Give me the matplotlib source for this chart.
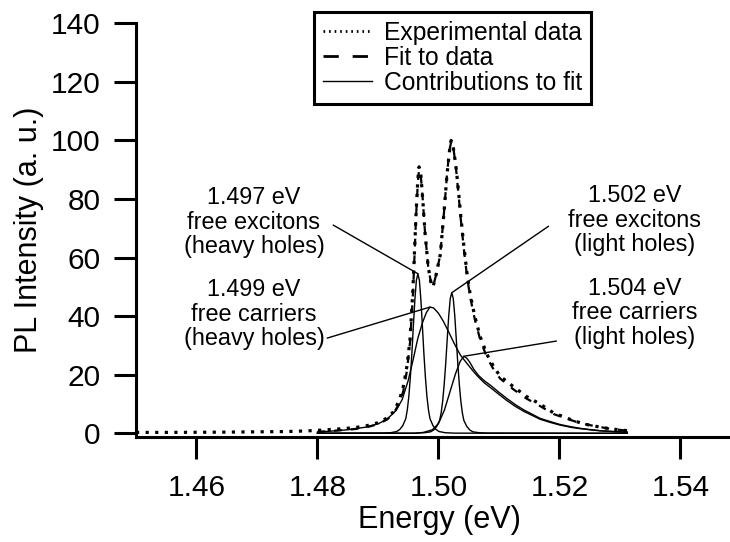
import numpy as np
import matplotlib
matplotlib.use('Agg')
import matplotlib.pyplot as plt

plt.rcParams['font.family'] = ['Liberation Sans', 'DejaVu Sans']

# --- measured PL spectrum (a. u.) ---
exp_energy = [1.4500, 1.4550, 1.4600, 1.4650, 1.4700, 1.4750, 1.4780, 1.4800, 1.4830, 1.4860,
              1.4880, 1.4900, 1.4915, 1.4925, 1.4935, 1.4942, 1.4948, 1.4953, 1.4958, 1.4963,
              1.4966, 1.4968, 1.4971, 1.4974, 1.4978, 1.4983, 1.4988, 1.4991, 1.4996, 1.5003,
              1.5009, 1.5014, 1.5018, 1.5021, 1.5025, 1.5029, 1.5033, 1.5037, 1.5042, 1.5047,
              1.5052, 1.5060, 1.5069, 1.5080, 1.5092, 1.5102, 1.5124, 1.5146, 1.5168, 1.5190,
              1.5212, 1.5228, 1.5245, 1.5265, 1.5285, 1.5312]
exp_intensity = [0.3, 0.3, 0.35, 0.4, 0.5, 0.6, 0.8, 1.0, 1.4, 1.9,
                 2.5, 3.6, 5.2, 7.2, 11.0, 16.0, 23.0, 32.0, 50.0, 75.0,
                 87.0, 91.0, 88.0, 80.0, 68.0, 57.0, 51.0, 50.0, 54.0, 61.0,
                 75.0, 88.0, 96.0, 100.0, 97.0, 91.0, 83.0, 74.0, 64.0, 55.0,
                 48.0, 40.0, 33.0, 27.0, 22.5, 19.5, 15.9, 12.5, 10.0, 7.0,
                 5.2, 4.0, 3.0, 2.2, 1.5, 0.9]

# --- total fit ---
fit_energy = [1.4800, 1.4830, 1.4860, 1.4880, 1.4900, 1.4915, 1.4925, 1.4935, 1.4942, 1.4948,
              1.4953, 1.4958, 1.4963, 1.4966, 1.4968, 1.4971, 1.4974, 1.4978, 1.4983, 1.4988,
              1.4991, 1.4996, 1.5003, 1.5009, 1.5014, 1.5018, 1.5021, 1.5025, 1.5029, 1.5033,
              1.5037, 1.5042, 1.5047, 1.5052, 1.5060, 1.5069, 1.5080, 1.5092, 1.5102, 1.5124,
              1.5146, 1.5168, 1.5190, 1.5212, 1.5228, 1.5245, 1.5265, 1.5285, 1.5312]
fit_intensity = [0.5, 0.9, 1.4, 2.0, 3.1, 4.7, 6.6, 10.0, 14.5, 21.5,
                 31.0, 48.0, 74.0, 86.0, 90.0, 87.5, 80.0, 68.0, 57.0, 51.0,
                 50.0, 54.0, 61.0, 75.0, 88.0, 96.5, 99.5, 97.0, 90.5, 82.0,
                 73.0, 63.0, 54.0, 47.0, 39.0, 32.0, 26.0, 21.5, 18.7, 15.0,
                 11.8, 9.3, 6.6, 5.0, 3.9, 3.0, 2.2, 1.5, 0.9]

# --- fit contributions ---
hhx_energy = [1.4800, 1.4906, 1.4921, 1.4931, 1.4936, 1.4941, 1.4946, 1.49485, 1.4951, 1.49535,
              1.4956, 1.49585, 1.4961, 1.49635, 1.4966, 1.49685, 1.4971, 1.49735, 1.4976, 1.49785,
              1.4981, 1.49835, 1.4986, 1.4991, 1.4996, 1.5001, 1.5011, 1.5026, 1.5312]
hhx_intensity = [0.0, 0.05, 0.2, 0.6, 1.3, 2.6, 5.0, 8.0, 12.5, 19.0,
                 27.0, 36.5, 45.5, 52.2, 54.5, 52.2, 45.5, 36.5, 27.0, 19.0,
                 12.5, 8.0, 5.0, 2.6, 1.3, 0.6, 0.2, 0.05, 0.0]

hhfc_energy = [1.4800, 1.4820, 1.4850, 1.4880, 1.4900, 1.4915, 1.4930, 1.4940, 1.4950, 1.4958,
               1.4966, 1.4974, 1.4980, 1.4986, 1.4992, 1.5000, 1.5008, 1.5016, 1.5026, 1.5036,
               1.5042, 1.5047, 1.5052, 1.5058, 1.5066, 1.5076, 1.5086, 1.5100, 1.5113, 1.5127,
               1.5141, 1.5155, 1.5168, 1.5185, 1.5201, 1.5220, 1.5234, 1.5250, 1.5267, 1.5290,
               1.5312]
hhfc_intensity = [0.4, 0.7, 1.2, 2.1, 3.2, 4.8, 7.8, 11.5, 18.0, 25.0,
                  32.5, 38.0, 41.2, 43.1, 42.8, 41.0, 38.3, 35.0, 30.7, 26.8,
                  25.2, 23.9, 22.6, 21.1, 19.2, 17.2, 15.6, 13.3, 11.2, 9.2,
                  7.5, 6.1, 4.8, 3.7, 2.8, 2.0, 1.6, 1.2, 0.85, 0.55,
                  0.35]

lhx_energy = [1.4800, 1.4962, 1.4977, 1.4987, 1.4992, 1.4997, 1.5002, 1.50045, 1.5007, 1.50095,
              1.5012, 1.50145, 1.5017, 1.50195, 1.5022, 1.50245, 1.5027, 1.50295, 1.5032, 1.50345,
              1.5037, 1.50395, 1.5042, 1.5047, 1.5052, 1.5057, 1.5067, 1.5082, 1.5312]
lhx_intensity = [0.0, 0.05, 0.2, 0.5, 1.1, 2.3, 4.4, 7.0, 11.0, 16.7,
                 23.8, 32.1, 40.1, 46.0, 48.0, 46.0, 40.1, 32.1, 23.8, 16.7,
                 11.0, 7.0, 4.4, 2.3, 1.1, 0.5, 0.2, 0.05, 0.0]

lhfc_energy = [1.4800, 1.4960, 1.4975, 1.4990, 1.5000, 1.5010, 1.5020, 1.5028, 1.5036, 1.5042,
               1.5047, 1.5052, 1.5058, 1.5066, 1.5076, 1.5086, 1.5100, 1.5113, 1.5127, 1.5141,
               1.5155, 1.5168, 1.5185, 1.5201, 1.5220, 1.5234, 1.5250, 1.5267, 1.5290, 1.5312]
lhfc_intensity = [0.0, 0.0, 0.3, 1.2, 3.3, 8.0, 14.8, 20.2, 24.6, 26.3,
                  25.6, 24.2, 22.0, 19.8, 17.9, 16.4, 14.0, 11.9, 9.8, 8.0,
                  6.5, 5.1, 4.0, 3.0, 2.2, 1.7, 1.3, 0.9, 0.6, 0.4]

components = [
    (hhx_energy, hhx_intensity, 'free excitons\n(heavy holes)'),
    (hhfc_energy, hhfc_intensity, 'free carriers\n(heavy holes)'),
    (lhx_energy, lhx_intensity, 'free excitons\n(light holes)'),
    (lhfc_energy, lhfc_intensity, 'free carriers\n(light holes)'),
]

# label block centres and leader-line start points (data coords)
label_pos = [(1.4695, 72.1), (1.4695, 40.7), (1.5324, 72.8), (1.5324, 41.1)]
leader_start = [(1.4826, 71.1), (1.4816, 32.5), (1.5182, 70.7), (1.5195, 31.5)]

fig = plt.figure(figsize=(7.3, 5.42), dpi=100)
ax = fig.add_axes([0.1863, 0.1943, 0.8137, 0.7627])

for e, i, _ in components:
    ax.plot(e, i, '-', color='black', linewidth=1.0)
ax.plot(fit_energy, fit_intensity, color='black', linewidth=1.6,
        linestyle=(0, (3.5, 4)))
ax.plot(exp_energy, exp_intensity, color='black', linewidth=2.3,
        linestyle=(0, (1, 2)))

# peak labels with leader lines
for (e, i, desc), (tx, ty), (sx, sy) in zip(components, label_pos, leader_start):
    k = int(np.argmax(i))
    pe, pv = e[k], i[k]
    ax.annotate('', xy=(pe, pv), xytext=(sx, sy),
                arrowprops=dict(arrowstyle='-', color='black', lw=1.0,
                                shrinkA=0, shrinkB=0))
    ax.text(tx, ty, f'{pe:.3f} eV\n{desc}', ha='center', va='center',
            fontsize=16.8, linespacing=1.1)

ax.set_xlim(1.45, 1.5482)
ax.set_ylim(-1.16, 140)
ax.set_xticks([1.46, 1.48, 1.50, 1.52, 1.54])
ax.set_yticks([0, 20, 40, 60, 80, 100, 120, 140])
ax.set_xticklabels(['1.46', '1.48', '1.50', '1.52', '1.54'])

for side in ['top', 'right']:
    ax.spines[side].set_visible(False)
for side in ['left', 'bottom']:
    ax.spines[side].set_linewidth(2.2)
ax.tick_params(direction='out', length=16, width=2.2, labelsize=21.5)
ax.tick_params(axis='x', pad=11)
ax.tick_params(axis='y', pad=9.5)

ax.set_xlabel('Energy (eV)', fontsize=22)
ax.set_ylabel('PL Intensity (a. u.)', fontsize=22)
ax.xaxis.set_label_coords(0.51, -0.165)
ax.yaxis.set_label_coords(-0.155, 0.5)

leg_lines = [
    plt.Line2D([], [], color='black', linewidth=2.0, linestyle=(0, (0.6, 1.4))),
    plt.Line2D([], [], color='black', linewidth=2.0, linestyle=(0, (5.5, 5))),
    plt.Line2D([], [], color='black', linewidth=1.0),
]
leg = ax.legend(leg_lines, ['Experimental data', 'Fit to data', 'Contributions to fit'],
                loc='upper left', bbox_to_anchor=(314 / 730, 1 - 12 / 542),
                bbox_transform=fig.transFigure, borderaxespad=0,
                fontsize=17.7, frameon=True, fancybox=False, framealpha=1,
                edgecolor='black', borderpad=0.35, handlelength=2.0,
                handletextpad=0.5, labelspacing=0.05)
leg.get_frame().set_linewidth(2.2)

fig.savefig('out.png', dpi=100)
